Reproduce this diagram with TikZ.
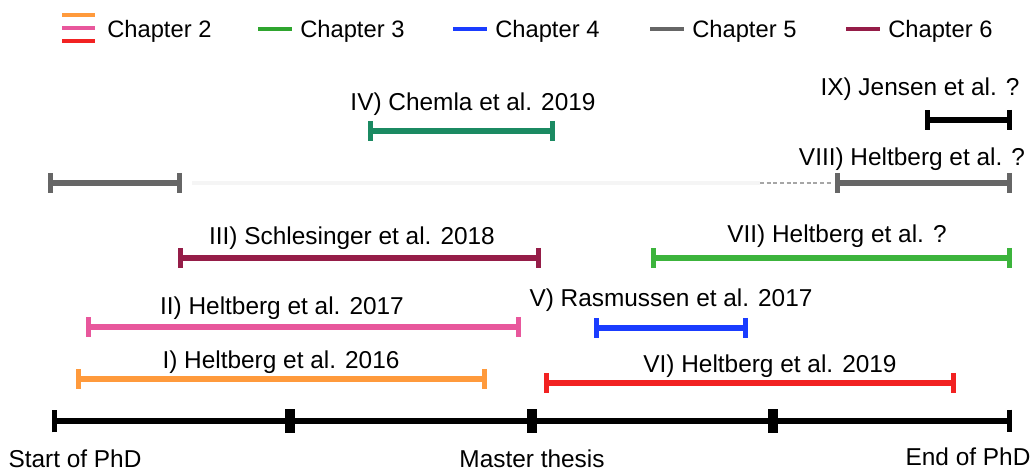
\documentclass[tikz,border=0pt]{standalone}
\usepackage{fontspec}
\setmainfont{Liberation Sans}
\usetikzlibrary{positioning,arrows.meta}
\definecolor{chtwoorange}{HTML}{FF9A3C}
\definecolor{chtwopink}{HTML}{E8579C}
\definecolor{chtwored}{HTML}{F22222}
\definecolor{chthree}{HTML}{2FA52F}
\definecolor{chthreeteal}{HTML}{1B8A62}
\definecolor{chthreelight}{HTML}{3CB43C}
\definecolor{chfour}{HTML}{1A3CFF}
\definecolor{chfive}{HTML}{666666}
\definecolor{chsix}{HTML}{951D48}

\tikzset{
  paperbar/.style={line width=3.8pt, draw=#1, {Bar[width=15pt,line width=3.4pt]}-{Bar[width=15pt,line width=3.4pt]}},
  legline/.style={line width=3pt, draw=#1},
  paperlbl/.style={anchor=base, inner sep=0pt, font=\fontsize{18.3}{21}\selectfont},
  leglbl/.style={anchor=base west, inner sep=0pt, font=\fontsize{17.8}{20}\selectfont},
}

\begin{document}
\begin{tikzpicture}[x=0.75pt, y=-0.75pt]
\useasboundingbox (0,0) rectangle (1033,473);

% legend
\coordinate (lgA1) at (62,15); \coordinate (lgA2) at (95,15);
\coordinate (lgB1) at (62,28); \coordinate (lgB2) at (95,28);
\coordinate (lgC1) at (62,41); \coordinate (lgC2) at (95,41);
\draw[legline=chtwoorange] (lgA1) -- (lgA2);
\draw[legline=chtwopink] (lgB1) -- (lgB2);
\draw[legline=chtwored] (lgC1) -- (lgC2);
\node[leglbl] (chtwo) at (107,38) {Chapter 2};
\foreach \n/\c/\x in {chthreeleg/chthree/258, chfourleg/chfour/453, chfiveleg/chfive/650, chsixleg/chsix/846}{
  \coordinate (\n-a) at (\x,29);
  \coordinate (\n-b) at ({\x+34},29);
  \draw[legline=\c] (\n-a) -- (\n-b);
}
\node[leglbl] (chthreetxt) at (300,38) {Chapter 3};
\node[leglbl] (chfourtxt) at (495,38) {Chapter 4};
\node[leglbl] (chfivetxt) at (692,38) {Chapter 5};
\node[leglbl] (chsixtxt) at (888,38) {Chapter 6};

% paper bars
\foreach \n/\c/\xa/\xb/\y in {jensen/black/925/1012/120, chemla/chthreeteal/368/555/131,
    heltA/chfive/48/182/183, heltB/chfive/835/1012/183,
    schlesinger/chsix/178/541/258, heltseven/chthreelight/651/1012/258,
    heltTwo/chtwopink/86/521/327, rasmussen/chfour/594/748/328,
    heltOne/chtwoorange/76/487/379, heltSix/chtwored/544/956/383}{
  \coordinate (\n-a) at (\xa,\y);
  \coordinate (\n-b) at (\xb,\y);
  \draw[paperbar=\c] (\n-a) -- (\n-b);
}
% faint gap in VIII
\coordinate (gapA) at (192,183); \coordinate (gapB) at (760,183); \coordinate (gapC) at (833,183);
\draw[line width=3.6pt, gray!8] (gapA) -- (gapB);
\draw[line width=0.8pt, gray!70, densely dashed] (gapB) -- (gapC);

\node[paperlbl] (jensenlbl) at (920,96) {IX) Jensen et al. ?};
\node[paperlbl] (chemlalbl) at (473,111) {IV) Chemla et al. 2019};
\node[paperlbl] (heltlbl) at (912,166) {VIII) Heltberg et al. ?};
\node[paperlbl] (schlesingerlbl) at (352,245) {III) Schlesinger et al. 2018};
\node[paperlbl] (heltsevenlbl) at (837,243) {VII) Heltberg et al. ?};
\node[paperlbl] (heltTwolbl) at (282,315) {II) Heltberg et al. 2017};
\node[paperlbl] (rasmussenlbl) at (671,307) {V) Rasmussen et al. 2017};
\node[paperlbl] (heltOnelbl) at (281,369) {I) Heltberg et al. 2016};
\node[paperlbl] (heltSixlbl) at (770,373) {VI) Heltberg et al. 2019};

% timeline
\coordinate (tStart) at (52,421);
\coordinate (tEnd) at (1012,421);
\draw[line width=4.5pt, {Bar[width=17pt,line width=3.4pt]}-{Bar[width=17pt,line width=3.4pt]}] (tStart) -- (tEnd);
\foreach \x in {290,532,773}{
  \fill (\x-5,409) rectangle (\x+5,433);
}
\node[paperlbl] (startlbl) at (75,468) {Start of PhD};
\node[paperlbl] (masterlbl) at (532,468) {Master thesis};
\node[paperlbl] (endlbl) at (968,466) {End of PhD};
\end{tikzpicture}
\end{document}
